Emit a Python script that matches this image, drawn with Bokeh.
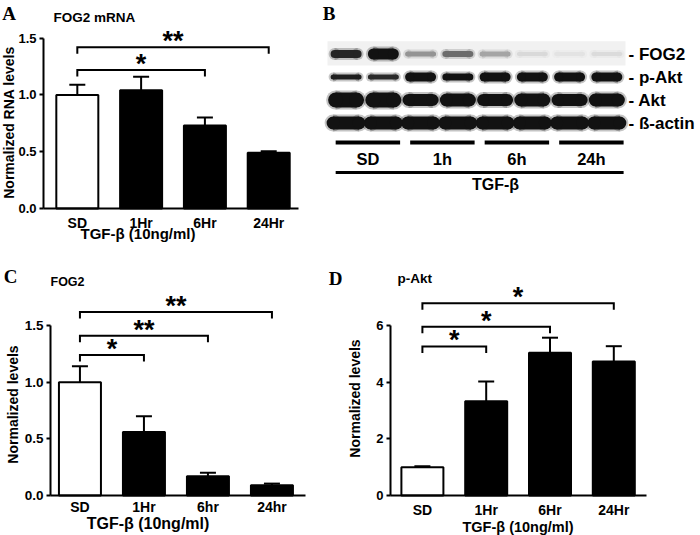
import math
from bokeh.plotting import figure
from bokeh.layouts import row, column
from bokeh.models import Range1d, FixedTicker, PrintfTickFormatter
from bokeh.embed import file_html
from bokeh.resources import INLINE
from bokeh.core.properties import value

SANS = "Liberation Sans"
SERIF = "Liberation Serif"

# ---------------- data ----------------
mrna_groups = ["SD", "1Hr", "6Hr", "24Hr"]
mrna_mean = [1.00, 1.04, 0.73, 0.49]
mrna_sem = [0.09, 0.12, 0.07, 0.015]
mrna_pairs = [(0, 2), (0, 3)]
mrna_pair_y = [1.22, 1.42]
mrna_stars = ["*", "**"]

fog2_groups = ["SD", "1Hr", "6hr", "24hr"]
fog2_mean = [1.00, 0.56, 0.17, 0.09]
fog2_sem = [0.14, 0.14, 0.03, 0.015]
fog2_pairs = [(0, 1), (0, 2), (0, 3)]
fog2_pair_y = [1.24, 1.41, 1.62]
fog2_stars = ["*", "**", "**"]

pakt_groups = ["SD", "1Hr", "6Hr", "24Hr"]
pakt_mean = [1.00, 3.33, 5.04, 4.73]
pakt_sem = [0.03, 0.69, 0.53, 0.54]
pakt_pairs = [(0, 1), (0, 2), (0, 3)]
pakt_pair_y = [5.26, 5.96, 6.79]
pakt_stars = ["*", "*", "*"]

blot_groups = ["SD", "1h", "6h", "24h"]
blot_proteins = ["FOG2", "p-Akt", "Akt", "ß-actin"]
blot_intensity = [
    [0.92, 1.00, 0.45, 0.62, 0.38, 0.16, 0.12, 0.15],
    [0.95, 0.90, 1.00, 1.00, 1.00, 1.00, 1.00, 1.00],
    [1.00, 1.00, 1.00, 1.00, 1.00, 1.00, 1.00, 1.00],
    [1.00, 1.00, 1.00, 1.00, 1.00, 1.00, 1.00, 1.00],
]
blot_thickness = [
    [8, 11, 5, 6, 5, 4, 4, 4],
    [5, 5, 9, 7, 9, 9, 9, 9],
    [15, 15, 12, 13, 12, 13, 12, 13],
    [13, 13, 13, 13, 13, 13, 13, 13],
]
treatment = "TGF-β (10ng/ml)"


def bar_panel(ox, oy, w, h, fl, fr, fb, x0, sx, sy, groups, mean, sem,
              pairs, pair_y, stars, yticks, yfmt, ytick_size, xtick_size,
              xtick_standoff, letter, letter_xy, ylabel, ylabel_xy, title,
              title_xy, title_size, xlabel_xy, xlabel_size):
    def X(rx):
        return x0 + (rx - fl) / sx

    def Y(ry):
        return (fb - ry) / sy

    p = figure(width=w, height=h, x_range=Range1d(X(ox), X(ox + w)),
               y_range=Range1d(Y(oy + h), Y(oy)),
               output_backend="svg", toolbar_location=None,
               min_border_left=0, min_border_right=0, min_border_top=0,
               min_border_bottom=0, outline_line_color=None)
    p.grid.visible = False

    idx = list(range(len(groups)))
    fills = ["white" if i == 0 else "black" for i in idx]
    p.vbar(x=idx, top=mean, width=42 / sx, fill_color=fills,
           line_color="black", line_width=2)
    tops = [m + s for m, s in zip(mean, sem)]
    p.segment(x0=idx, y0=mean, x1=idx, y1=tops, line_color="black", line_width=2)
    cw = 8 / sx
    p.segment(x0=[i - cw for i in idx], y0=tops, x1=[i + cw for i in idx], y1=tops,
              line_color="black", line_width=2)

    drop = 6.5 / sy
    xs = [[i, i, j, j] for (i, j) in pairs]
    ys = [[y - drop, y, y, y - drop] for y in pair_y]
    p.multi_line(xs, ys, line_color="black", line_width=2, line_join="miter")
    p.text(x=[(i + j) / 2 for (i, j) in pairs], y=[y + 6 / sy for y in pair_y],
           text=stars, text_font=value(SANS), text_font_style="bold",
           text_font_size="27px", text_align="center", text_baseline="alphabetic",
           text_color="black")

    ya = p.yaxis[0]
    ya.fixed_location = x0
    ya.ticker = FixedTicker(ticks=yticks)
    ya.formatter = PrintfTickFormatter(format=yfmt)
    ya.bounds = (0, yticks[-1])
    ya.axis_line_width = 2
    ya.axis_line_color = "black"
    ya.major_tick_line_width = 2
    ya.major_tick_line_color = "black"
    ya.major_tick_out = 4
    ya.major_tick_in = 0
    ya.minor_tick_line_color = None
    ya.major_label_standoff = 3
    ya.major_label_text_font = SANS
    ya.major_label_text_font_style = "bold"
    ya.major_label_text_font_size = ytick_size
    ya.major_label_text_color = "black"

    xa = p.xaxis[0]
    xa.fixed_location = 0
    xa.bounds = (x0, X(fr))
    xa.ticker = FixedTicker(ticks=idx)
    xa.major_label_overrides = {i: g for i, g in zip(idx, groups)}
    xa.axis_line_width = 2
    xa.axis_line_color = "black"
    xa.major_tick_line_color = None
    xa.major_tick_out = 0
    xa.major_tick_in = 0
    xa.minor_tick_line_color = None
    xa.major_label_standoff = xtick_standoff
    xa.major_label_text_font = SANS
    xa.major_label_text_font_style = "bold"
    xa.major_label_text_font_size = xtick_size
    xa.major_label_text_color = "black"

    p.text(x=[X(letter_xy[0])], y=[Y(letter_xy[1])], text=[letter],
           text_font=value(SERIF), text_font_style="bold", text_font_size="19px",
           text_align="center", text_baseline="middle", text_color="black")
    p.text(x=[X(ylabel_xy[0])], y=[Y(ylabel_xy[1])], text=[ylabel],
           angle=math.pi / 2, text_font=value(SANS), text_font_style="bold",
           text_font_size="14px", text_align="center", text_baseline="middle",
           text_color="black")
    p.text(x=[X(title_xy[0])], y=[Y(title_xy[1])], text=[title],
           text_font=value(SANS), text_font_style="bold",
           text_font_size=title_size, text_align="left", text_baseline="middle",
           text_color="black")
    p.text(x=[X(xlabel_xy[0])], y=[Y(xlabel_xy[1])], text=[treatment],
           text_font=value(SANS), text_font_style="bold",
           text_font_size=xlabel_size, text_align="center", text_baseline="middle",
           text_color="black")
    return p


pA = bar_panel(0, 0, 318, 250, 43, 298, 208, -0.53, 63.8, 113.6,
               mrna_groups, mrna_mean, mrna_sem, mrna_pairs, mrna_pair_y, mrna_stars,
               [0, 0.5, 1.0, 1.5], "%.1f", "13px", "14px", 6,
               "A", (8.5, 12.5), "Normalized RNA levels", (8, 122),
               "FOG2 mRNA", (53, 16.7), "13.5px", (137.5, 233), "15px")

pC = bar_panel(0, 250, 318, 285, 50, 305, 495, -0.46, 64.0, 113.3,
               fog2_groups, fog2_mean, fog2_sem, fog2_pairs, fog2_pair_y, fog2_stars,
               [0, 0.5, 1.0, 1.5], "%.1f", "13.5px", "14px", 3,
               "C", (10, 276), "Normalized levels", (12, 404),
               "FOG2", (50, 281.7), "12.5px", (147.5, 522.5), "16px")

pD = bar_panel(318, 250, 382, 285, 390, 646, 495, -0.5, 63.8, 28.33,
               pakt_groups, pakt_mean, pakt_sem, pakt_pairs, pakt_pair_y, pakt_stars,
               [0, 2, 4, 6], "%d", "13px", "14px", 6,
               "D", (335, 277.5), "Normalized levels", (354, 398),
               "p-Akt", (397, 278), "13.5px", (517.5, 526), "14.5px")

# ---------------- panel B: western blot ----------------
LANE = 37.25   # px per lane
ROW = 23.0     # px per row
lane0 = 345.6  # x of lane 0 centre
row0 = 53.5    # y of row 0 centre
bx0, by0, bw, bh = 318, 0, 382, 250


def LX(rx):
    return (rx - lane0) / LANE


def RY(ry):
    return (ry - row0) / ROW


pB = figure(width=bw, height=bh, x_range=Range1d(LX(bx0), LX(bx0 + bw)),
            y_range=Range1d(RY(by0 + bh), RY(by0)),
            output_backend="svg", toolbar_location=None,
            min_border_left=0, min_border_right=0, min_border_top=0,
            min_border_bottom=0, outline_line_color=None,
            x_axis_location=None, y_axis_location=None)
pB.grid.visible = False

nlanes = len(blot_intensity[0])
pB.quad(left=[-0.5], right=[nlanes - 0.5], bottom=[0.5], top=[-0.55],
        fill_color="#f1f1f1", line_color=None)

band_w = [31, 31, 36, 39]


def stadium(xs, y, widths, th, cols, alpha):
    half = [(wd - t) / 2 / LANE for wd, t in zip(widths, th)]
    pB.rect(x=xs, y=[y] * len(xs), width=[wd - t for wd, t in zip(widths, th)],
            height=th, width_units="screen", height_units="screen",
            fill_color=cols, fill_alpha=alpha, line_color=None)
    for sgn in (-1, 1):
        pB.ellipse(x=[x + sgn * hh for x, hh in zip(xs, half)], y=[y] * len(xs),
                   width=th, height=th, width_units="screen", height_units="screen",
                   fill_color=cols, fill_alpha=alpha, line_color=None)


for r, prot in enumerate(blot_proteins):
    xs = list(range(nlanes))
    cols = []
    for I in blot_intensity[r]:
        g = int(round(255 * (1 - 0.93 * I)))
        cols.append("#%02x%02x%02x" % (g, g, g))
    th = blot_thickness[r]
    stadium(xs, r, [band_w[r] + 4] * nlanes, [t + 4 for t in th], cols, 0.25)
    stadium(xs, r, [band_w[r]] * nlanes, th, cols, 1.0)

pB.text(x=[LX(628)] * len(blot_proteins), y=list(range(len(blot_proteins))),
        text=["- " + s for s in blot_proteins], text_font=value(SANS),
        text_font_style="bold", text_font_size="17px", text_align="left",
        text_baseline="middle", text_color="black")

gl = [2 * g - 0.28 for g in range(len(blot_groups))]
gr = [2 * g + 1.45 for g in range(len(blot_groups))]
yline = RY(142)
pB.segment(x0=gl, y0=[yline] * 4, x1=gr, y1=[yline] * 4, line_color="black",
           line_width=4)
pB.text(x=[(a + b) / 2 for a, b in zip(gl, gr)], y=[RY(158)] * 4, text=blot_groups,
        text_font=value(SANS), text_font_style="bold", text_font_size="16.5px",
        text_align="center", text_baseline="middle", text_color="black")
pB.segment(x0=[gl[0]], y0=[RY(172)], x1=[gr[-1]], y1=[RY(172)], line_color="black",
           line_width=3)
pB.text(x=[LX(495)], y=[RY(184)], text=["TGF-β"], text_font=value(SANS),
        text_font_style="bold", text_font_size="16px", text_align="center",
        text_baseline="middle", text_color="black")
pB.text(x=[LX(328.5)], y=[RY(12.5)], text=["B"], text_font=value(SERIF),
        text_font_style="bold", text_font_size="19px", text_align="center",
        text_baseline="middle", text_color="black")

layout = column(row(pA, pB), row(pC, pD))
open("out.html", "w").write(file_html(layout, INLINE))
